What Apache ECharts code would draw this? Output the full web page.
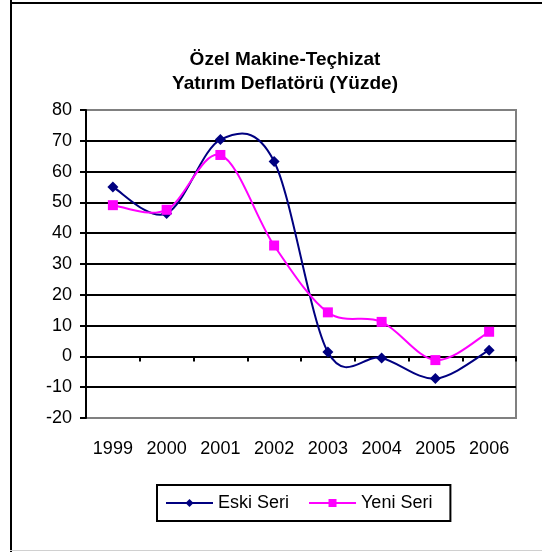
<!DOCTYPE html>
<html>
<head>
<meta charset="utf-8">
<script src="https://cdn.jsdelivr.net/npm/echarts@6/dist/echarts.min.js"></script>
<style>
html,body{margin:0;padding:0;background:#fff;}
#chart{width:542px;height:552px;}
</style>
</head>
<body>
<div id="chart"></div>
<script>
const categories = ['1999','2000','2001','2002','2003','2004','2005','2006'];
const eskiSeri = [55.0, 46.4, 70.4, 63.3, 1.4, -0.5, -7.2, 2.0];
const yeniSeri = [49.1, 47.6, 65.4, 36.0, 14.3, 11.2, -1.2, 8.0];
const seriesNames = ['Eski Seri', 'Yeni Seri'];
const seriesColors = ['#000080', '#FF00FF'];
const titleLines = ['Özel Makine-Teçhizat', 'Yatırım Deflatörü (Yüzde)'];

const FONT = '"Liberation Sans", Arial, sans-serif';
const chart = echarts.init(document.getElementById('chart'));
const splitColors = [];
for (let i = 0; i <= 10; i++) splitColors.push(i === 0 || i === 10 ? '#808080' : '#000000');

// Catmull-Rom style smooth curve (like spreadsheet smoothed lines), drawn through the axis scales
function smoothRenderer(values, color) {
  return function (params, api) {
    const i = params.dataIndex;
    const n = values.length;
    if (i >= n - 1) return null;
    const pt = k => {
      const kk = Math.max(0, Math.min(n - 1, k));
      return api.coord([kk, values[kk]]);
    };
    const p0 = pt(i - 1), p1 = pt(i), p2 = pt(i + 1), p3 = pt(i + 2);
    const t = 1 / 6;
    return {
      type: 'bezierCurve',
      shape: {
        x1: p1[0], y1: p1[1],
        cpx1: p1[0] + (p2[0] - p0[0]) * t, cpy1: p1[1] + (p2[1] - p0[1]) * t,
        cpx2: p2[0] - (p3[0] - p1[0]) * t, cpy2: p2[1] - (p3[1] - p1[1]) * t,
        x2: p2[0], y2: p2[1]
      },
      style: { stroke: color, lineWidth: 2, fill: null }
    };
  };
}

chart.setOption({
  animation: false,
  backgroundColor: '#ffffff',
  title: {
    text: titleLines.join('\n'),
    left: 280, top: 43, textAlign: 'center',
    textStyle: { fontFamily: FONT, fontSize: 19, fontWeight: 'bold', color: '#000', lineHeight: 24 }
  },
  graphic: [
    { type: 'line', shape: { x1: 11, y1: 0, x2: 11, y2: 552 }, style: { stroke: '#000', lineWidth: 2 } },
    { type: 'line', shape: { x1: 10, y1: 3, x2: 542, y2: 3 }, style: { stroke: '#000', lineWidth: 2 } },
    { type: 'line', shape: { x1: 10, y1: 550.5, x2: 542, y2: 550.5 }, style: { stroke: '#d0d0d0', lineWidth: 1 } }
  ],
  legend: {
    data: [
      { name: seriesNames[0], lineStyle: { color: seriesColors[0], width: 2, opacity: 1 } },
      { name: seriesNames[1], lineStyle: { color: seriesColors[1], width: 2, opacity: 1 } }
    ],
    left: 157, top: 485,
    padding: [9, 18, 9, 8],
    itemGap: 19,
    itemWidth: 47, itemHeight: 10,
    borderColor: '#000', borderWidth: 2, backgroundColor: '#fff',
    textStyle: { fontFamily: FONT, fontSize: 18, color: '#000' }
  },
  grid: {
    left: 86, top: 110, right: 26, bottom: 134,
    show: true, borderColor: '#808080', borderWidth: 2, backgroundColor: '#fff'
  },
  xAxis: [
    {
      type: 'category', data: categories, boundaryGap: true, position: 'bottom',
      axisLine: { onZero: true, lineStyle: { color: '#000', width: 2 } },
      axisTick: { show: true, inside: false, length: 5, lineStyle: { color: '#000', width: 2 } },
      axisLabel: { show: false }
    },
    {
      type: 'category', data: categories, boundaryGap: true, position: 'bottom',
      axisLine: { show: false, onZero: false }, axisTick: { show: false },
      axisLabel: { show: true, margin: 22, fontFamily: FONT, fontSize: 18, color: '#000' }
    }
  ],
  yAxis: {
    type: 'value', min: -20, max: 80, interval: 10,
    axisLine: { show: true, onZero: false, lineStyle: { color: '#000', width: 2 } },
    axisTick: { show: true, inside: false, length: 6, lineStyle: { color: '#000', width: 2 } },
    axisLabel: { margin: 14, fontFamily: FONT, fontSize: 18, color: '#000' },
    splitLine: { show: true, lineStyle: { color: splitColors, width: 2 } }
  },
  series: [
    {
      name: seriesNames[0] + ' eğri', type: 'custom', xAxisIndex: 0, z: 2,
      data: eskiSeri.map((v, i) => [i, v]), encode: { x: 0, y: 1 },
      renderItem: smoothRenderer(eskiSeri, seriesColors[0]), silent: true
    },
    {
      name: seriesNames[1] + ' eğri', type: 'custom', xAxisIndex: 0, z: 2,
      data: yeniSeri.map((v, i) => [i, v]), encode: { x: 0, y: 1 },
      renderItem: smoothRenderer(yeniSeri, seriesColors[1]), silent: true
    },
    {
      name: seriesNames[0], type: 'line', data: eskiSeri, z: 3,
      symbol: 'diamond', symbolSize: 11, showAllSymbol: true,
      lineStyle: { color: seriesColors[0], width: 2, opacity: 0 },
      itemStyle: { color: seriesColors[0] }
    },
    {
      name: seriesNames[1], type: 'line', data: yeniSeri, z: 3,
      symbol: 'rect', symbolSize: 10, showAllSymbol: true,
      lineStyle: { color: seriesColors[1], width: 2, opacity: 0 },
      itemStyle: { color: seriesColors[1] }
    }
  ]
});
</script>
</body>
</html>
